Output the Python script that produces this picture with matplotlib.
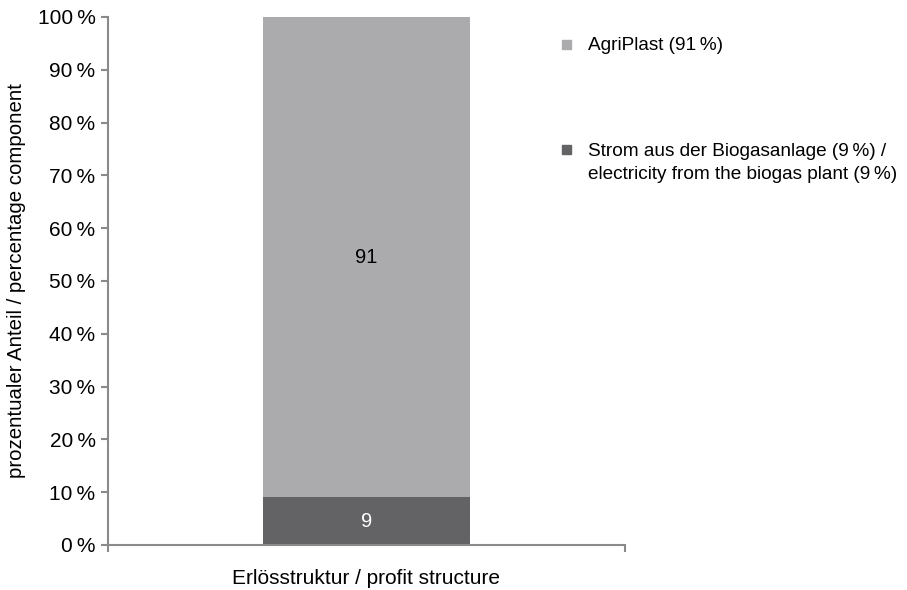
import matplotlib
matplotlib.use("Agg")
import matplotlib.pyplot as plt

plt.rcParams['font.family'] = ['Liberation Sans', 'DejaVu Sans']

category = ["Erlösstruktur / profit structure"]
strom = [9]
agriplast = [91]
series_labels = ["AgriPlast (91\u2009%)",
                 "Strom aus der Biogasanlage (9\u2009%) /\nelectricity from the biogas plant (9\u2009%)"]
yticks = list(range(0, 101, 10))
ytick_labels = [f"{v}\u2009%" for v in yticks]

c_light = "#ababad"
c_dark = "#636366"
spine_c = "#8a8a8c"

fig = plt.figure(figsize=(9.07, 5.90), dpi=100)
ax = fig.add_axes([108 / 907, 45 / 590, 517 / 907, 528 / 590])

x = [0]
ax.bar(x, strom, width=0.4, color=c_dark)
ax.bar(x, agriplast, width=0.4, bottom=strom, color=c_light)
ax.text(0, strom[0] / 2, str(strom[0]), ha="center", va="center", color="white", fontsize=14.5)
ax.text(0, strom[0] + agriplast[0] / 2, str(agriplast[0]), ha="center", va="center",
        color="black", fontsize=14.5)

ax.set_xlim(-0.5, 0.5)
ax.set_ylim(0, 100)
ax.set_yticks(yticks)
ax.set_yticklabels(ytick_labels)
ax.set_xticks([-0.5, 0.5])
ax.set_xticklabels([])
ax.set_xlabel(category[0], fontsize=15, labelpad=9)
ax.set_ylabel("prozentualer Anteil / percentage component", fontsize=14.7)
ax.yaxis.set_label_coords(-0.158, 0.5)

for s in ["top", "right"]:
    ax.spines[s].set_visible(False)
for s in ["left", "bottom"]:
    ax.spines[s].set_color(spine_c)
    ax.spines[s].set_linewidth(1.5)
ax.tick_params(axis="both", color=spine_c, width=1.5, length=5, direction="out", labelsize=15)
ax.tick_params(axis="y", pad=4)

# legend drawn by hand to match layout
fig.patches.append(plt.Rectangle((562 / 907, 1 - 49 / 590), 9 / 907, 9 / 590,
                                 transform=fig.transFigure, color=c_light))
fig.text(588 / 907, 1 - 45 / 590, series_labels[0], fontsize=13.7, va="center")
fig.patches.append(plt.Rectangle((562 / 907, 1 - 154 / 590), 9 / 907, 9 / 590,
                                 transform=fig.transFigure, color=c_dark))
fig.text(588 / 907, 1 - 163 / 590, series_labels[1], fontsize=13.7, va="center", linespacing=1.4)

fig.savefig("out.png", dpi=100)
